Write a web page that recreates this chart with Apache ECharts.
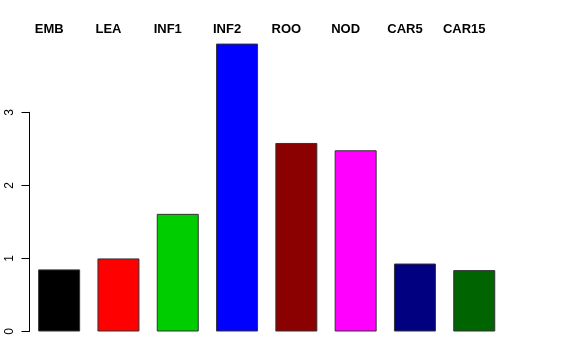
<!DOCTYPE html>
<html>
<head>
<meta charset="utf-8">
<script src="https://cdn.jsdelivr.net/npm/echarts@6/dist/echarts.min.js"></script>
<style>
html,body{margin:0;padding:0;background:#fff;}
#chart{width:576px;height:360px;}
</style>
</head>
<body>
<div id="chart"></div>
<script>
const categories = ['EMB','LEA','INF1','INF2','ROO','NOD','CAR5','CAR15'];
const values = [0.85, 1.0, 1.61, 3.94, 2.58, 2.48, 0.93, 0.84];
const barColors = ['#000000','#ff0000','#00cd00','#0000ff','#8b0000','#ff00ff','#000080','#006400'];
const yTicks = [0, 1, 2, 3];

const chart = echarts.init(document.getElementById('chart'), null, {renderer:'canvas'});
const font = '"Liberation Sans", Arial, Helvetica, sans-serif';
const gridBottom = 28.5;
const gridLeft = 29.5;
const gridWidth = 474.4;
chart.setOption({
  animation:false,
  backgroundColor:'#ffffff',
  grid:[
    {left:gridLeft, width:gridWidth, top:39.2, bottom:gridBottom},
    {left:gridLeft, width:gridWidth, top:112.3, bottom:gridBottom}
  ],
  xAxis:[
    {type:'category', data:categories, gridIndex:0, position:'top',
     axisLine:{show:false}, axisTick:{show:false},
     axisLabel:{fontFamily:font, fontWeight:'bold', fontSize:13, color:'#000', margin:3, padding:[0,20,0,0]}},
    {type:'category', data:categories, gridIndex:1, show:false}
  ],
  yAxis:[
    {type:'value', gridIndex:0, min:0, max:4, show:false, splitLine:{show:false}},
    {type:'value', gridIndex:1, min:yTicks[0], max:yTicks[yTicks.length-1], interval:1,
     axisLine:{show:true, lineStyle:{color:'#000', width:1}},
     axisTick:{show:true, length:8, lineStyle:{color:'#000', width:1}},
     axisLabel:{fontFamily:font, fontSize:12, color:'#000', rotate:90, margin:14},
     splitLine:{show:false}}
  ],
  series:[{
    type:'bar', xAxisIndex:0, yAxisIndex:0, barWidth:42,
    data: values.map((v,i)=>({value:v, itemStyle:{color:barColors[i]}})),
    itemStyle:{borderColor:'#333', borderWidth:1}
  }]
});
</script>
</body>
</html>
